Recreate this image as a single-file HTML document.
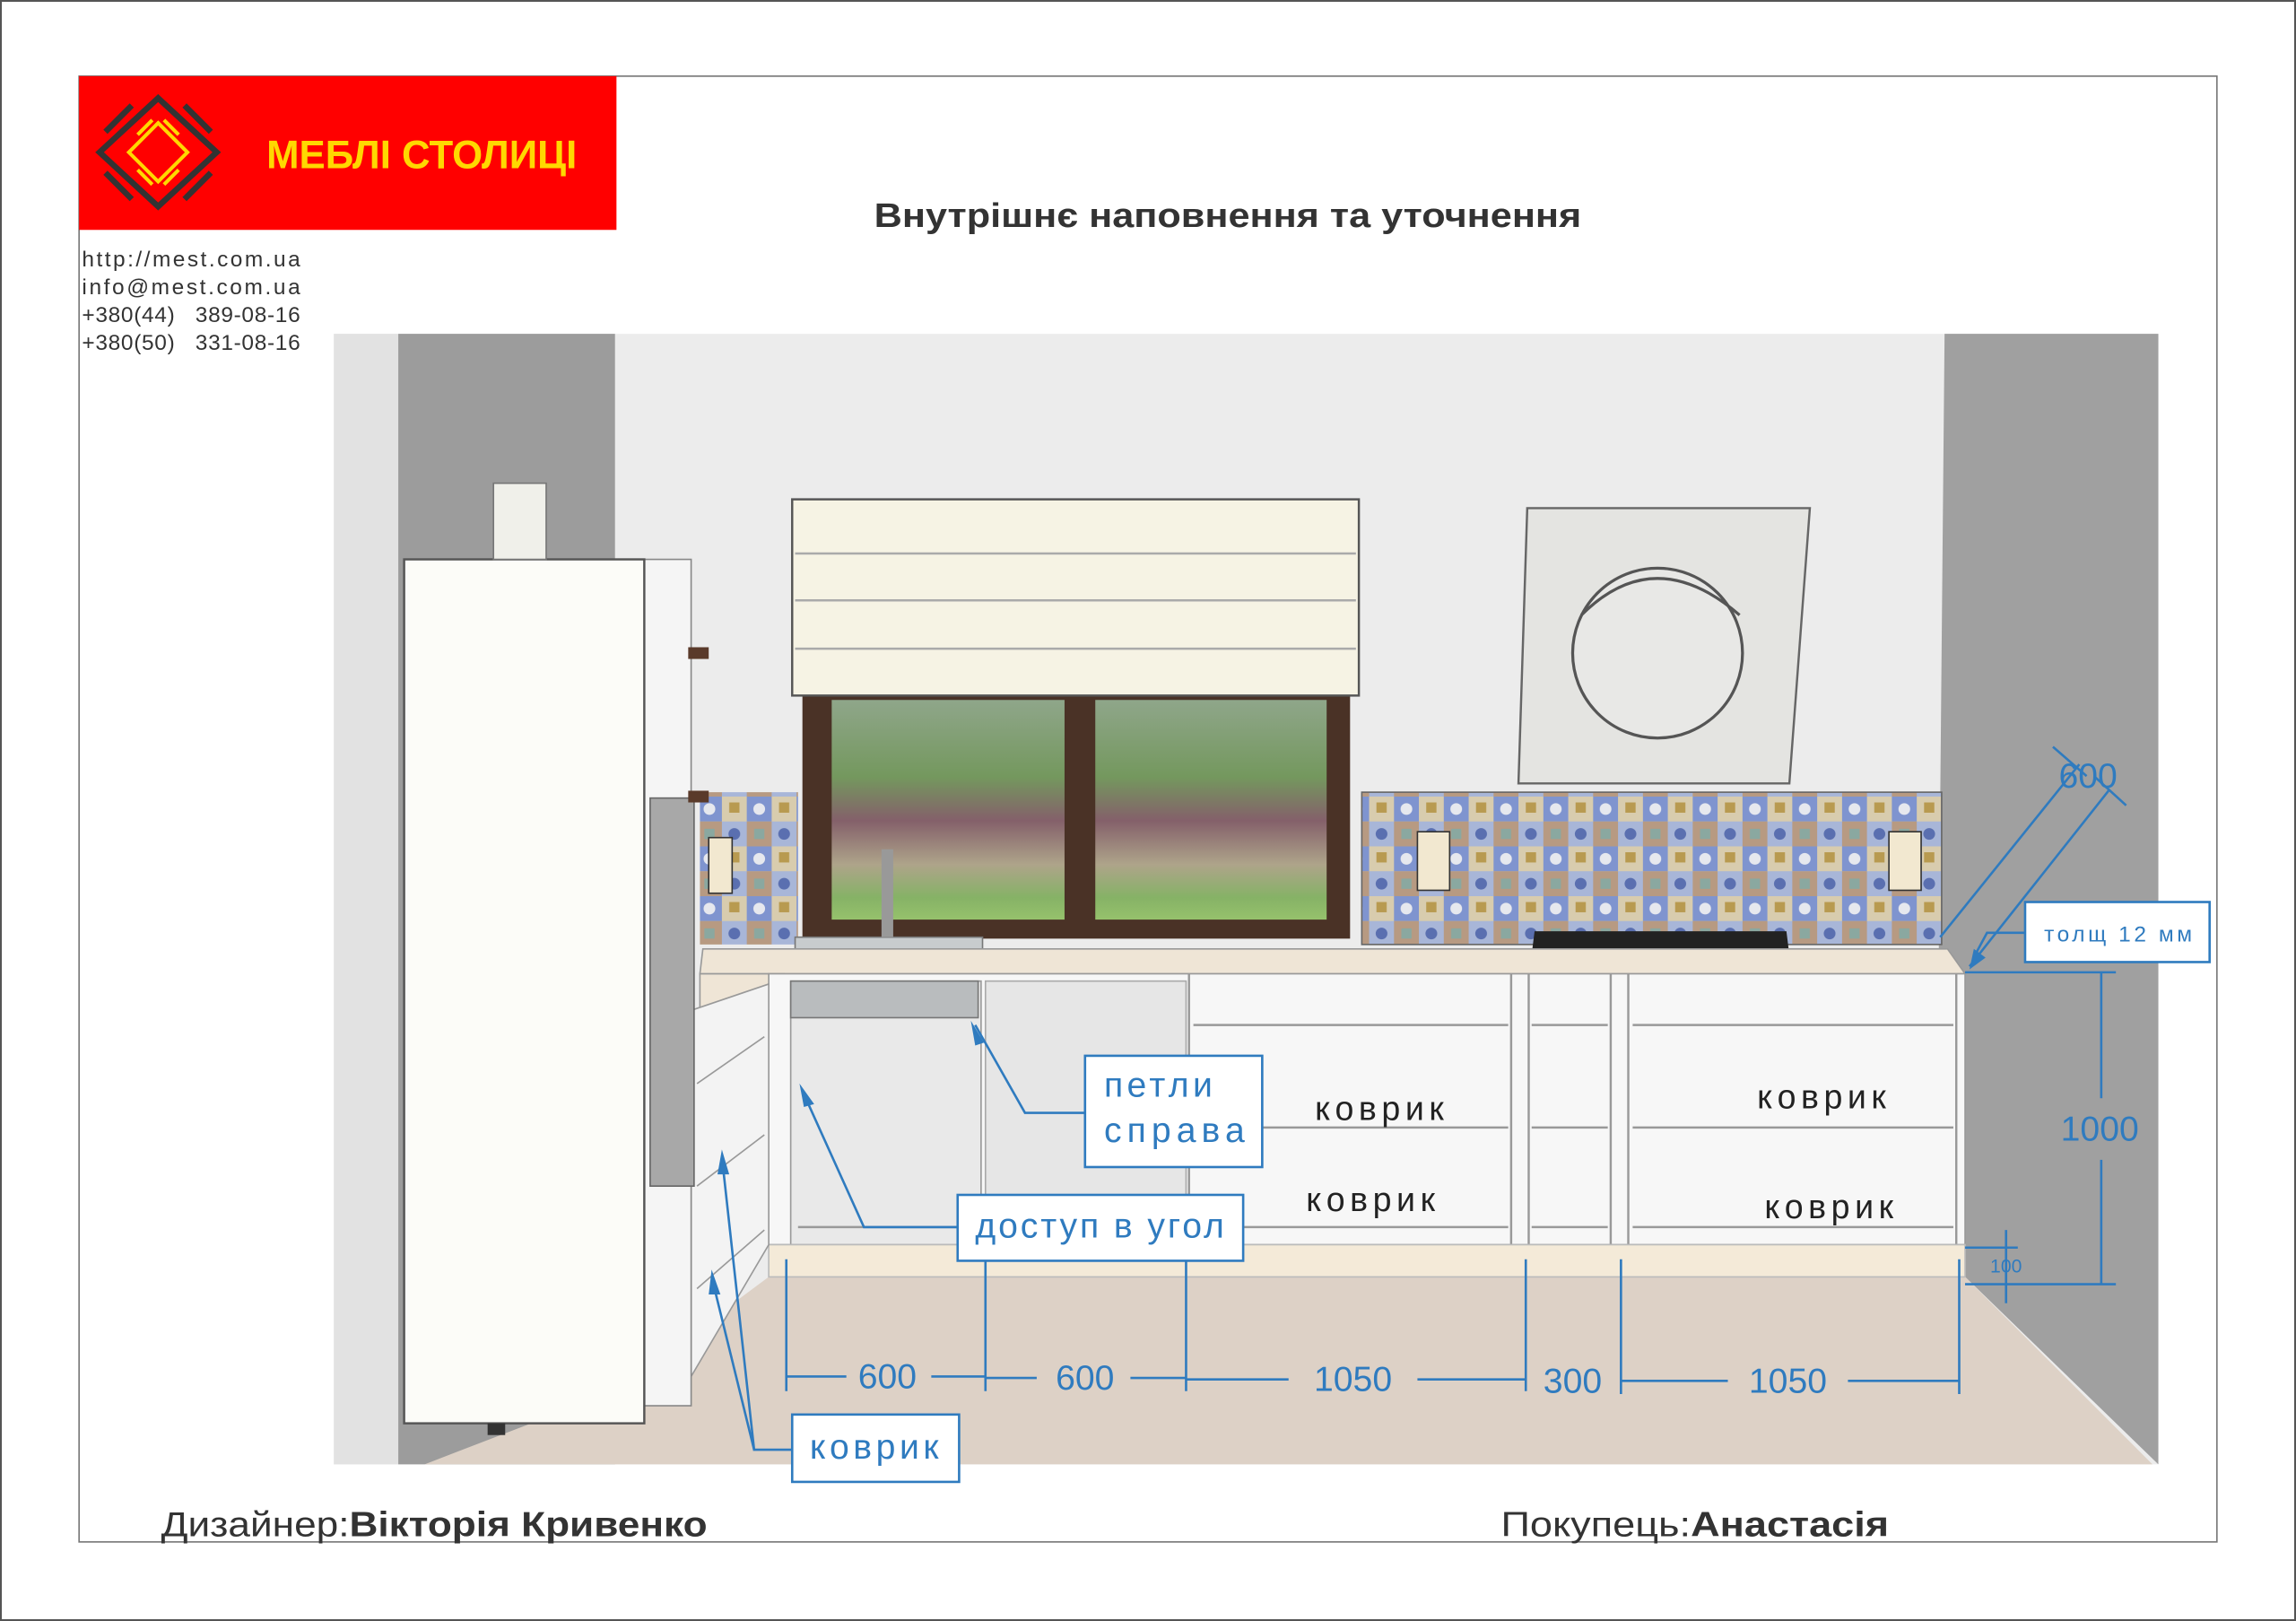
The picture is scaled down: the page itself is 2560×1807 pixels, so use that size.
<!DOCTYPE html>
<html><head><meta charset="utf-8"><style>
html,body{margin:0;padding:0;background:#fff}
svg{display:block}
text{font-family:"Liberation Sans",sans-serif}
</style></head><body>
<svg width="2560" height="1807" viewBox="0 0 1568 1107" preserveAspectRatio="none" xmlns="http://www.w3.org/2000/svg">
<defs>
<pattern id="tiles" width="34" height="34" patternUnits="userSpaceOnUse">
<rect width="34" height="34" fill="#c9c0ae"/>
<rect width="17" height="17" fill="#7f94cf"/>
<rect x="17" width="17" height="17" fill="#d8ccae"/>
<rect y="17" width="17" height="17" fill="#b79a82"/>
<rect x="17" y="17" width="17" height="17" fill="#a8b6d8"/>
<circle cx="8.5" cy="8.5" r="4" fill="#e6e8ee"/>
<circle cx="25.5" cy="25.5" r="4" fill="#5a6fb0"/>
<rect x="22" y="4" width="7" height="7" fill="#b89a50"/>
<rect x="5" y="22" width="7" height="7" fill="#8aa8a0"/>
</pattern>
<linearGradient id="garden" x1="0" y1="0" x2="0" y2="1">
<stop offset="0" stop-color="#8fa68a"/><stop offset="0.35" stop-color="#74985e"/>
<stop offset="0.55" stop-color="#84606a"/><stop offset="0.75" stop-color="#aea48a"/>
<stop offset="0.9" stop-color="#86b266"/><stop offset="1" stop-color="#96c26c"/>
</linearGradient>
</defs>
<rect x="0.5" y="0.5" width="1567" height="1106" fill="#fff" stroke="#555" stroke-width="1.5"/>
<rect x="54" y="52" width="1460" height="1001" fill="#fff" stroke="#777" stroke-width="1"/>
<!-- header -->
<rect x="54" y="52" width="367" height="105" fill="#ff0000"/>
<g fill="none" stroke="#333" stroke-width="4">
<polygon points="108,67 148,104 108,141 68,104"/>
<line x1="72" y1="90" x2="90" y2="72"/><line x1="126" y1="72" x2="144" y2="90"/>
<line x1="72" y1="118" x2="90" y2="136"/><line x1="126" y1="136" x2="144" y2="118"/>
</g>
<g fill="none" stroke="#ffd800" stroke-width="2.5">
<polygon points="108,84 128,104 108,124 88,104"/>
<line x1="94" y1="92" x2="104" y2="82"/><line x1="112" y1="82" x2="122" y2="92"/>
<line x1="94" y1="116" x2="104" y2="126"/><line x1="112" y1="126" x2="122" y2="116"/>
</g>
<text x="182" y="115" font-size="27" font-weight="bold" fill="#ffd800" textLength="212" lengthAdjust="spacingAndGlyphs">МЕБЛІ СТОЛИЦІ</text>
<text x="597" y="155" font-size="23" font-weight="bold" fill="#333" textLength="483" lengthAdjust="spacingAndGlyphs">Внутрішнє наповнення та уточнення</text>
<g font-size="15" fill="#333">
<text x="56" y="182" textLength="149">http://mest.com.ua</text>
<text x="56" y="201" textLength="149">info@mest.com.ua</text>
<text x="56" y="220" textLength="149" xml:space="preserve">+380(44)   389-08-16</text>
<text x="56" y="239" textLength="149" xml:space="preserve">+380(50)   331-08-16</text>
</g>
<!-- scene -->
<rect x="228" y="228" width="1246" height="772" fill="#ececec"/>
<rect x="228" y="228" width="44" height="772" fill="#e2e2e2"/>
<polygon points="272,228 420,228 420,1000 290,1000 272,1000" fill="#9c9c9c"/>
<polygon points="1328,228 1474,228 1474,1000 1340,870 1322,870" fill="#a0a0a0"/>
<polygon points="290,1000 1470,1000 1342,872 525,872 420,950" fill="#ddd1c6"/>
<!-- blind & window -->
<rect x="548" y="473" width="374" height="168" fill="#4a3226"/>
<rect x="568" y="478" width="159" height="150" fill="url(#garden)"/>
<rect x="748" y="478" width="158" height="150" fill="url(#garden)"/>
<rect x="541" y="341" width="387" height="134" fill="#f6f3e4" stroke="#555" stroke-width="1.5"/>
<g stroke="#aaa" stroke-width="1.5"><line x1="543" y1="378" x2="926" y2="378"/><line x1="543" y1="410" x2="926" y2="410"/><line x1="543" y1="443" x2="926" y2="443"/></g>
<!-- backsplash -->
<rect x="478" y="541" width="67" height="104" fill="url(#tiles)"/>
<rect x="930" y="541" width="396" height="104" fill="url(#tiles)" stroke="#666"/>
<rect x="968" y="568" width="22" height="40" fill="#f2e8d0" stroke="#333"/>
<rect x="1290" y="568" width="22" height="40" fill="#f2e8d0" stroke="#333"/>
<rect x="484" y="572" width="16" height="38" fill="#f2e8d0" stroke="#333"/>
<!-- hood -->
<polygon points="1043,347 1236,347 1222,535 1037,535" fill="#e4e4e1" stroke="#666" stroke-width="1.5"/>
<circle cx="1132" cy="446" r="58" fill="#e8e8e6" stroke="#555" stroke-width="2"/>
<path d="M1080,420 Q1130,370 1188,420" fill="none" stroke="#555" stroke-width="2"/>
<!-- hob, sink -->
<polygon points="1048,636 1220,636 1222,652 1046,652" fill="#222"/>
<rect x="543" y="640" width="128" height="16" fill="#c8ccce" stroke="#777"/>
<rect x="602" y="580" width="8" height="60" fill="#999"/>
<!-- countertop -->
<polygon points="480,648 1330,648 1342,665 478,665" fill="#efe5d6" stroke="#999" stroke-width="1"/>
<polygon points="478,665 535,665 525,678 478,700" fill="#efe5d6" stroke="#999"/>
<!-- base cabinets -->
<rect x="525" y="665" width="817" height="185" fill="#f7f7f7" stroke="#999"/>
<rect x="540" y="670" width="130" height="180" fill="#e9e9e9" stroke="#999"/>
<rect x="540" y="670" width="128" height="25" fill="#b9bcbe" stroke="#777"/>
<rect x="673" y="670" width="137" height="180" fill="#e6e6e6" stroke="#aaa"/>
<g fill="none" stroke="#999" stroke-width="1.5">
<line x1="812" y1="665" x2="812" y2="850"/><line x1="1032" y1="665" x2="1032" y2="850"/>
<line x1="1044" y1="665" x2="1044" y2="850"/><line x1="1100" y1="665" x2="1100" y2="850"/>
<line x1="1112" y1="665" x2="1112" y2="850"/><line x1="1336" y1="665" x2="1336" y2="850"/>
<line x1="815" y1="700" x2="1030" y2="700"/><line x1="815" y1="770" x2="1030" y2="770"/><line x1="815" y1="838" x2="1030" y2="838"/>
<line x1="1115" y1="700" x2="1334" y2="700"/><line x1="1115" y1="770" x2="1334" y2="770"/><line x1="1115" y1="838" x2="1334" y2="838"/>
<line x1="1046" y1="700" x2="1098" y2="700"/><line x1="1046" y1="770" x2="1098" y2="770"/><line x1="1046" y1="838" x2="1098" y2="838"/>
<line x1="545" y1="838" x2="668" y2="838"/>
</g>
<rect x="525" y="850" width="817" height="22" fill="#f4ead8" stroke="#bbb"/>
<!-- left corner cabinets -->
<polygon points="472,690 525,672 525,850 472,940" fill="#f3f3f3" stroke="#999"/>
<g stroke="#999"><line x1="476" y1="740" x2="522" y2="708"/><line x1="476" y1="810" x2="522" y2="775"/><line x1="476" y1="880" x2="522" y2="840"/></g>
<!-- tall column -->
<rect x="440" y="382" width="32" height="578" fill="#f5f5f5" stroke="#888"/>
<rect x="444" y="545" width="30" height="265" fill="#a8a8a8" stroke="#666"/>
<rect x="470" y="442" width="14" height="8" fill="#5a3a2a"/>
<rect x="470" y="540" width="14" height="8" fill="#5a3a2a"/>
<rect x="276" y="382" width="164" height="590" fill="#fcfcf8" stroke="#555" stroke-width="1.5"/>
<rect x="337" y="330" width="36" height="52" fill="#f0f0ea" stroke="#777"/>
<rect x="333" y="972" width="12" height="8" fill="#333"/>
<!-- blue annotations -->
<g stroke="#2f7bbf" stroke-width="1.6" fill="none">
<polyline points="862,760 700,760 666,700"/>
<polyline points="654,838 590,838 548,745"/>
<polyline points="541,990 515,990 493,790"/>
<line x1="515" y1="990" x2="486" y2="872"/>
<line x1="537" y1="860" x2="537" y2="950"/><line x1="673" y1="860" x2="673" y2="950"/>
<line x1="810" y1="860" x2="810" y2="950"/><line x1="1042" y1="860" x2="1042" y2="950"/>
<line x1="1107" y1="860" x2="1107" y2="952"/><line x1="1338" y1="860" x2="1338" y2="952"/>
<line x1="537" y1="940" x2="578" y2="940"/><line x1="636" y1="940" x2="673" y2="940"/>
<line x1="673" y1="941" x2="708" y2="941"/><line x1="772" y1="941" x2="810" y2="941"/>
<line x1="810" y1="942" x2="880" y2="942"/><line x1="968" y1="942" x2="1042" y2="942"/>
<line x1="1107" y1="943" x2="1180" y2="943"/><line x1="1262" y1="943" x2="1338" y2="943"/>
<line x1="1342" y1="664" x2="1445" y2="664"/><line x1="1342" y1="877" x2="1445" y2="877"/>
<line x1="1435" y1="664" x2="1435" y2="750"/><line x1="1435" y1="792" x2="1435" y2="877"/>
<line x1="1342" y1="852" x2="1378" y2="852"/><line x1="1370" y1="840" x2="1370" y2="890"/>
<line x1="1325" y1="640" x2="1420" y2="522"/><line x1="1345" y1="660" x2="1440" y2="540"/>
<line x1="1402" y1="510" x2="1425" y2="530"/><line x1="1430" y1="530" x2="1452" y2="550"/>
<polyline points="1383,637 1357,637 1350,650"/>
</g>
<g fill="#2f7bbf">
<polygon points="663,697 672,712 666,714"/>
<polygon points="546,740 556,754 549,756"/>
<polygon points="493,785 498,802 490,802"/>
<polygon points="486,867 492,884 484,884"/>
<polygon points="1345,662 1348,648 1356,654"/>
</g>
<g fill="#fff" stroke="#2f7bbf" stroke-width="1.6">
<rect x="741" y="721" width="121" height="76"/>
<rect x="654" y="816" width="195" height="45"/>
<rect x="541" y="966" width="114" height="46"/>
<rect x="1383" y="616" width="126" height="41"/>
</g>
<g fill="#2f7bbf" font-size="24">
<text x="754" y="749" textLength="74">петли</text>
<text x="754" y="780" textLength="96">справа</text>
<text x="666" y="845" textLength="170">доступ в угол</text>
<text x="553" y="996" textLength="88">коврик</text>
<text x="1396" y="643" font-size="15" textLength="101">толщ 12 мм</text>
<text x="606" y="948" text-anchor="middle">600</text>
<text x="741" y="949" text-anchor="middle">600</text>
<text x="924" y="950" text-anchor="middle">1050</text>
<text x="1074" y="951" text-anchor="middle">300</text>
<text x="1221" y="951" text-anchor="middle">1050</text>
<text x="1434" y="779" text-anchor="middle">1000</text>
<text x="1426" y="538" text-anchor="middle">600</text>
<text x="1370" y="869" text-anchor="middle" font-size="13">100</text>
</g>
<g fill="#222" font-size="23">
<text x="898" y="765" textLength="88">коврик</text>
<text x="892" y="827" textLength="88">коврик</text>
<text x="1200" y="757" textLength="88">коврик</text>
<text x="1205" y="832" textLength="88">коврик</text>
</g>
<!-- footer -->
<text x="110" y="1049" font-size="24" fill="#333" textLength="373" lengthAdjust="spacingAndGlyphs">Дизайнер:<tspan font-weight="bold">Вікторія Кривенко</tspan></text>
<text x="1025" y="1049" font-size="24" fill="#333" textLength="265" lengthAdjust="spacingAndGlyphs">Покупець:<tspan font-weight="bold">Анастасія</tspan></text>
</svg>
</body></html>
